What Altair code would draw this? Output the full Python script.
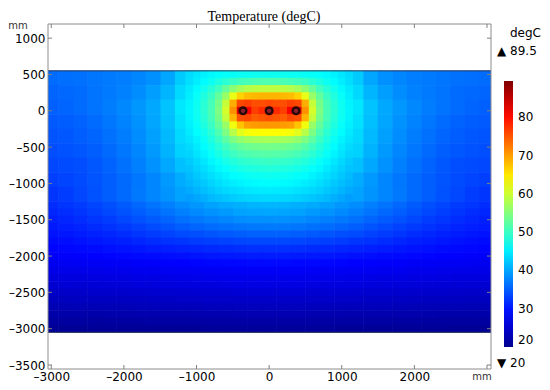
import altair as alt
import pandas as pd

# ---------------- data ----------------
TITLE = "Temperature (degC)"
UNIT_LEN = "mm"
UNIT_T = "degC"
MAX_LABEL = "\u25b2 89.5"
MIN_LABEL = "\u25bc 20"

T_MIN, T_MAX = 20, 89.5

# columns (half width; the field is mirror-symmetric about x = 0), 200 mm apart
X_HALF = [0, 200, 400, 600, 800, 1000, 1200, 1400, 1600, 1800, 2000, 2200, 2400, 2600, 2800, 3000]

# upper part, 200 mm rows
Y_UP = [450, 250, 50, -150, -350, -550, -750, -950, -1150]
T_UP = [
    [47, 47, 47, 46.8, 46.3, 45, 42.5, 40, 38.5, 37.8, 37.3, 37, 36.7, 36.4, 36.2, 36],
    [60, 60, 58, 53, 50, 46.5, 43.5, 41, 39.5, 38.3, 37.5, 37, 36.5, 36, 35.8, 35.6],
    [80, 77, 77, 61, 52, 47.5, 44.5, 42, 40.2, 39, 38, 37.2, 36.6, 36, 35.5, 35.2],
    [73, 72, 70, 59, 51.5, 47, 44, 41.8, 40, 38.7, 37.6, 36.8, 36, 35.4, 35, 34.8],
    [60, 59.5, 57, 53, 49.5, 46, 43.5, 41.3, 39.6, 38.3, 37.2, 36.4, 35.6, 35, 34.6, 34.4],
    [52.5, 52.3, 51.5, 50, 47.8, 45.3, 43, 40.9, 39.2, 37.9, 36.8, 35.9, 35.1, 34.6, 34.2, 34],
    [48.5, 48.3, 47.6, 46.3, 45, 43.5, 41.8, 40.2, 38.7, 37.4, 36.3, 35.4, 34.6, 34, 33.7, 33.5],
    [45.5, 45.3, 44.8, 44, 43, 41.8, 40.4, 39.1, 37.9, 36.8, 35.9, 35.1, 34.4, 33.8, 33.3, 33],
    [43, 42.9, 42.6, 42, 41.4, 40.6, 39.8, 38.8, 37.9, 36.9, 35.9, 35.1, 34.2, 33.5, 32.8, 32.3],
]

# lower part, 100 mm rows
Y_LOW = [-1300, -1400, -1500, -1600, -1700, -1800, -1900, -2000, -2100,
         -2200, -2300, -2400, -2500, -2600, -2700, -2800, -2900, -3000]
T_LOW = [
    [41.1, 41.0, 40.7, 40.3, 39.7, 39.0, 38.3, 37.4, 36.6, 35.7, 34.9, 34.1, 33.4, 32.7, 32.2, 31.7],
    [40.0, 39.9, 39.7, 39.2, 38.7, 38.1, 37.4, 36.6, 35.8, 35.0, 34.3, 33.6, 32.9, 32.3, 31.7, 31.3],
    [38.6, 38.5, 38.3, 37.9, 37.4, 36.9, 36.3, 35.6, 34.9, 34.2, 33.5, 32.8, 32.2, 31.7, 31.2, 30.8],
    [37.0, 36.9, 36.7, 36.4, 36.0, 35.6, 35.0, 34.4, 33.8, 33.2, 32.6, 32.1, 31.6, 31.1, 30.7, 30.4],
    [35.3, 35.3, 35.1, 34.8, 34.5, 34.1, 33.7, 33.2, 32.7, 32.2, 31.7, 31.3, 30.9, 30.5, 30.2, 29.9],
    [33.6, 33.6, 33.4, 33.2, 33.0, 32.7, 32.3, 32.0, 31.6, 31.2, 30.8, 30.5, 30.2, 29.9, 29.6, 29.4],
    [31.9, 31.9, 31.8, 31.6, 31.5, 31.2, 31.0, 30.7, 30.5, 30.2, 29.9, 29.7, 29.4, 29.2, 29.1, 28.9],
    [30.5, 30.5, 30.4, 30.3, 30.2, 30.0, 29.8, 29.6, 29.4, 29.3, 29.1, 28.9, 28.7, 28.5, 28.4, 28.3],
    [29.2, 29.2, 29.1, 29.1, 29.0, 28.9, 28.7, 28.6, 28.4, 28.3, 28.1, 28.0, 27.9, 27.8, 27.7, 27.6],
    [28.2, 28.2, 28.2, 28.1, 28.0, 27.9, 27.8, 27.7, 27.6, 27.5, 27.3, 27.2, 27.1, 27.0, 27.0, 26.9],
    [27.3, 27.3, 27.3, 27.2, 27.1, 27.0, 26.9, 26.8, 26.7, 26.6, 26.5, 26.4, 26.3, 26.2, 26.2, 26.1],
    [26.4, 26.4, 26.4, 26.3, 26.2, 26.2, 26.1, 26.0, 25.9, 25.8, 25.7, 25.6, 25.5, 25.4, 25.4, 25.3],
    [25.4, 25.4, 25.4, 25.3, 25.3, 25.2, 25.1, 25.0, 25.0, 24.9, 24.8, 24.7, 24.7, 24.6, 24.5, 24.5],
    [24.5, 24.5, 24.5, 24.4, 24.4, 24.3, 24.3, 24.2, 24.1, 24.0, 24.0, 23.9, 23.8, 23.8, 23.7, 23.7],
    [23.6, 23.6, 23.6, 23.5, 23.5, 23.4, 23.4, 23.3, 23.3, 23.2, 23.1, 23.1, 23.0, 23.0, 22.9, 22.9],
    [22.7, 22.7, 22.7, 22.6, 22.6, 22.6, 22.5, 22.5, 22.4, 22.4, 22.3, 22.3, 22.2, 22.2, 22.1, 22.1],
    [21.8, 21.8, 21.8, 21.8, 21.7, 21.7, 21.7, 21.6, 21.6, 21.5, 21.5, 21.4, 21.4, 21.4, 21.3, 21.3],
    [20.9, 20.9, 20.9, 20.9, 20.9, 20.8, 20.8, 20.8, 20.8, 20.7, 20.7, 20.7, 20.7, 20.6, 20.6, 20.6],
]

# fine grid (100 mm cells) around the pipes, half width
X_CORE = [0, 100, 200, 300, 400, 500, 600, 700, 800, 900, 1000, 1100]
Y_CORE = [500, 400, 300, 200, 100, 0, -100, -200, -300, -400, -500,
          -600, -700, -800, -900, -1000, -1100, -1200]
T_CORE = [
    [47, 47, 47, 46.9, 46.8, 46.6, 46.4, 46.1, 45.7, 45.2, 44.5, 43.7],
    [51.5, 51.5, 51.3, 51, 50.6, 50, 49, 48, 46.9, 45.9, 44.9, 43.9],
    [59, 59, 58.8, 58.3, 57.3, 55.5, 53, 50.5, 48.7, 47.2, 45.8, 44.6],
    [68.5, 68.5, 68.3, 68, 66.5, 62, 56.5, 52.8, 50, 48.2, 46.5, 45],
    [76, 75.5, 75.5, 76.5, 76, 69, 59.5, 54, 50.8, 48.8, 46.9, 45.4],
    [86, 78, 76.5, 81, 83, 71, 60.5, 54.5, 51, 49, 47, 45.5],
    [75.5, 75, 74.5, 76, 75.5, 68.5, 59.5, 54, 50.8, 48.7, 46.9, 45.4],
    [70.5, 70.5, 70.3, 70, 67.5, 62.5, 56.5, 52.8, 50, 48.1, 46.5, 45.1],
    [63.5, 63.5, 63.2, 62.8, 61.5, 58.5, 54.5, 51.3, 49, 47.3, 45.9, 44.7],
    [57.5, 57.4, 57.2, 56.8, 56, 54.5, 52.3, 50, 48.1, 46.6, 45.3, 44.2],
    [54, 53.9, 53.7, 53.4, 52.8, 51.8, 50.3, 48.7, 47.2, 45.9, 44.7, 43.6],
    [52, 51.9, 51.7, 51.4, 50.9, 50.1, 49, 47.8, 46.5, 45.3, 44.2, 43.1],
    [50, 49.9, 49.7, 49.4, 49, 48.4, 47.5, 46.5, 45.5, 44.5, 43.5, 42.5],
    [48.5, 48.4, 48.2, 48, 47.6, 47.1, 46.4, 45.6, 44.7, 43.8, 42.9, 42],
    [47, 46.9, 46.8, 46.6, 46.3, 45.9, 45.3, 44.6, 43.9, 43.1, 42.3, 41.5],
    [46, 45.9, 45.8, 45.6, 45.3, 44.9, 44.4, 43.8, 43.1, 42.4, 41.7, 41],
    [44.8, 44.7, 44.6, 44.4, 44.1, 43.8, 43.4, 42.9, 42.3, 41.7, 41, 40.3],
    [43.5, 43.4, 43.3, 43.1, 42.9, 42.6, 42.2, 41.8, 41.3, 40.7, 40.1, 39.5],
]

PIPES_X = [-360, 0, 370]
PIPES_Y = [0, 0, 0]
DOMAIN_EDGES_Y = [550, -3050]
X_TICKS = [-3000, -2000, -1000, 0, 1000, 2000, 3000]
X_LABELS = [-3000, -2000, -1000, 0, 1000, 2000]
Y_TICKS = [-3500, -3000, -2500, -2000, -1500, -1000, -500, 0, 500, 1000]
CBAR_TICKS = [20, 30, 40, 50, 60, 70, 80]

# ---------------- tables ----------------
EPS = 4  # tiny overlap so neighbouring cells leave no hairline seams


def cells(xs_half, ys, grid, hx, hy):
    out = []
    for yi, y in enumerate(ys):
        for xi, xh in enumerate(xs_half):
            for x in ([xh] if xh == 0 else [-xh, xh]):
                out.append({"x0": x - hx - EPS, "x1": x + hx + EPS,
                            "y0": y - hy - EPS, "y1": y + hy + EPS,
                            "T": grid[yi][xi]})
    return out


df_heat = pd.DataFrame(
    cells(X_HALF, Y_UP, T_UP, 100, 100)
    + cells(X_HALF, Y_LOW, T_LOW, 100, 50)
    + cells(X_CORE, Y_CORE, T_CORE, 50, 50)
)
df_pipes = pd.DataFrame({"x": PIPES_X, "y": PIPES_Y})
df_edges = pd.DataFrame({"y": DOMAIN_EDGES_Y})
df_xt = pd.DataFrame({"x": X_TICKS})
df_yt = pd.DataFrame({"y": Y_TICKS})

W, H = 443, 345
FONT = "DejaVu Sans"

xs = alt.Scale(domain=[-3045, 3055], nice=False, zero=False)
ys = alt.Scale(domain=[-3555, 1195], nice=False, zero=False)
span = T_MAX - T_MIN
cs = alt.Scale(
    domain=[T_MIN, T_MIN + 0.125 * span, T_MIN + 0.375 * span,
            T_MIN + 0.625 * span, T_MIN + 0.875 * span, T_MAX],
    range=["#00008f", "#0000ff", "#00ffff", "#ffff00", "#ff0000", "#800000"],
    interpolate="rgb",
)

LBL = "(datum.value < 0 ? '\u2013' : '') + format(abs(datum.value), 'd')"
xaxis = alt.Axis(values=X_LABELS, title=None, ticks=False, domain=False, grid=False,
                 labelFont=FONT, labelFontSize=12, labelColor="#000000",
                 labelPadding=2, labelExpr=LBL, labelFlush=False, labelOverlap=False)
yaxis = alt.Axis(values=Y_TICKS, title=None, ticks=False, domain=False, grid=False,
                 labelFont=FONT, labelFontSize=12, labelColor="#000000",
                 labelPadding=3, labelExpr=LBL, labelFlush=False, labelOverlap=False)

legend = alt.Legend(type="gradient", orient="none", legendX=456, legendY=57,
                    direction="vertical", gradientLength=266, gradientThickness=9,
                    values=CBAR_TICKS, labelFont=FONT, labelFontSize=12,
                    labelColor="#000000", labelOffset=5, title=None, padding=0,
                    gradientStrokeWidth=0, labelBaseline="middle", labelOverlap=False)

heat = alt.Chart(df_heat).mark_rect(clip=True).encode(
    x=alt.X("x0:Q", scale=xs, axis=xaxis), x2="x1:Q",
    y=alt.Y("y0:Q", scale=ys, axis=yaxis), y2="y1:Q",
    color=alt.Color("T:Q", scale=cs, legend=legend),
)

edges = alt.Chart(df_edges).mark_rule(color="#27375a", strokeWidth=1).encode(
    y=alt.Y("y:Q", scale=ys, axis=yaxis), x=alt.value(0), x2=alt.value(W))

pipes = alt.Chart(df_pipes).mark_point(
    filled=True, size=45, fill="#8a2030", stroke="#2a0808", strokeWidth=2.4, opacity=1
).encode(x=alt.X("x:Q", scale=xs, axis=xaxis), y=alt.Y("y:Q", scale=ys, axis=yaxis))

TICK = "#808080"
xt_bot = alt.Chart(df_xt).mark_rule(color=TICK).encode(
    x=alt.X("x:Q", scale=xs, axis=xaxis), y=alt.value(H), y2=alt.value(H - 4))
xt_top = alt.Chart(df_xt).mark_rule(color=TICK).encode(
    x=alt.X("x:Q", scale=xs, axis=xaxis), y=alt.value(0), y2=alt.value(4))
yt_left = alt.Chart(df_yt).mark_rule(color=TICK).encode(
    y=alt.Y("y:Q", scale=ys, axis=yaxis), x=alt.value(0), x2=alt.value(4))
yt_right = alt.Chart(df_yt).mark_rule(color=TICK).encode(
    y=alt.Y("y:Q", scale=ys, axis=yaxis), x=alt.value(W), x2=alt.value(W - 4))

frame = alt.Chart(alt.Data(values=[{"a": 1}])).mark_rect(
    filled=False, stroke="#8c8c8c", strokeWidth=1
).encode(x=alt.value(0), x2=alt.value(W), y=alt.value(0), y2=alt.value(H))


def label(txt, x, y, align="left", font=FONT, size=12, color="#000000"):
    return alt.Chart(alt.Data(values=[{"t": txt}])).mark_text(
        font=font, fontSize=size, align=align, baseline="middle", color=color
    ).encode(text="t:N", x=alt.value(x), y=alt.value(y))


title = label(TITLE, 216, -7, align="center", font="Liberation Serif", size=14)
y_unit = label(UNIT_LEN, -30, 2, align="center", size=10, color="#333333")
x_unit = label(UNIT_LEN, 434, 353, align="center", size=10, color="#333333")
t_unit = label(UNIT_T, 462, 9)
t_max = label(MAX_LABEL, 449, 27)
t_min = label(MIN_LABEL, 449, 339)

chart = alt.layer(
    heat, edges, pipes, frame, xt_bot, xt_top, yt_left, yt_right,
    title, y_unit, x_unit, t_unit, t_max, t_min
).properties(
    width=W, height=H,
    autosize=alt.AutoSizeParams(type="none"),
    padding={"left": 40, "top": 16, "right": 51, "bottom": 13},
).configure_view(stroke=None)

chart.save("out.html", embed_options={"renderer": "svg", "actions": False})
